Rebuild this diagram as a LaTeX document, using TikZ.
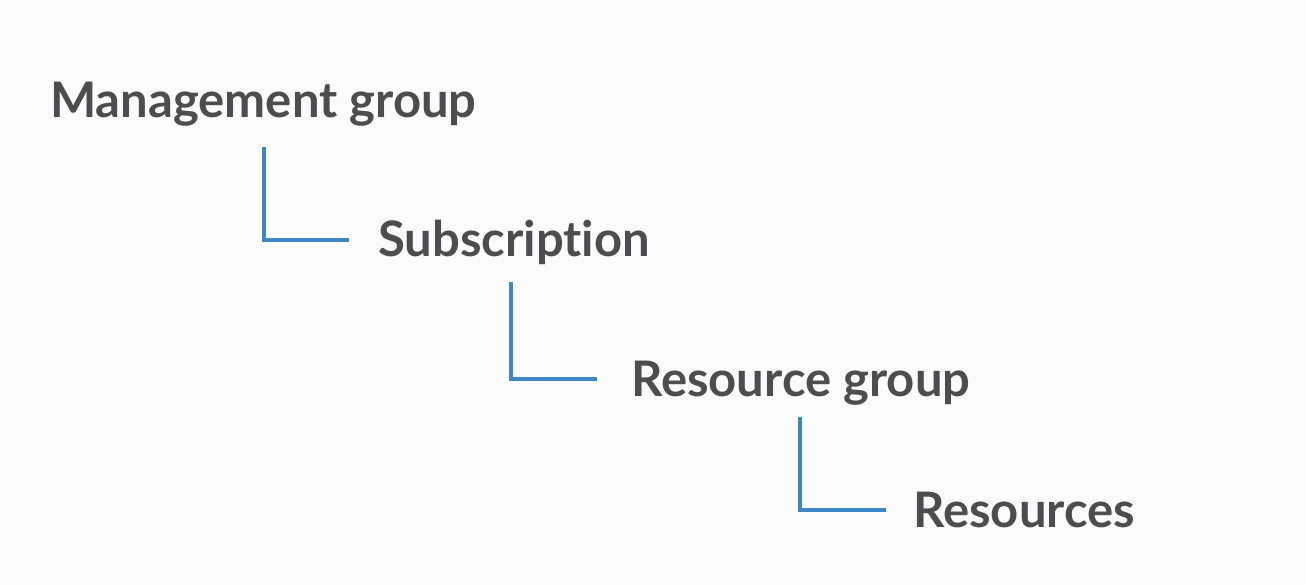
\documentclass[tikz,border=0pt]{standalone}
\usepackage{fontspec}
\setmainfont{Lato}[Ligatures=NoCommon]
\usepackage{tikz}
\usetikzlibrary{positioning}
\definecolor{levelgray}{HTML}{4D4D50}
\definecolor{linkblue}{HTML}{3D87C6}
\definecolor{paper}{HTML}{FBFBFB}
\tikzset{
  level/.style={anchor=base west, inner sep=0pt, text=levelgray, font=\fontsize{49}{55}\selectfont\bfseries},
  link/.style={draw=linkblue, line width=3.3pt},
}
\begin{document}
\begin{tikzpicture}[x=1pt, y=-1pt]
    \fill[paper] (0,0) rectangle (1306,585);
    \useasboundingbox (0,0) rectangle (1306,585);
    \node[level] (mg) at (50,118) {Management group};
    \node[level] (sub) at (378,257) {Subscript\kern0pt ion};
    \node[level] (rg) at (631,396) {Resource group};
    \node[level] (res) at (913,527) {Resources};
    \coordinate (t1) at (264,147);
    \coordinate (t2) at (511,282);
    \coordinate (t3) at (800,417);
    \draw[link] (t1) |- ([xshift=-29pt, yshift=17pt]sub.base west);
    \draw[link] (t2) |- ([xshift=-34pt, yshift=17pt]rg.base west);
    \draw[link] (t3) |- ([xshift=-27pt, yshift=17pt]res.base west);
\end{tikzpicture}
\end{document}
